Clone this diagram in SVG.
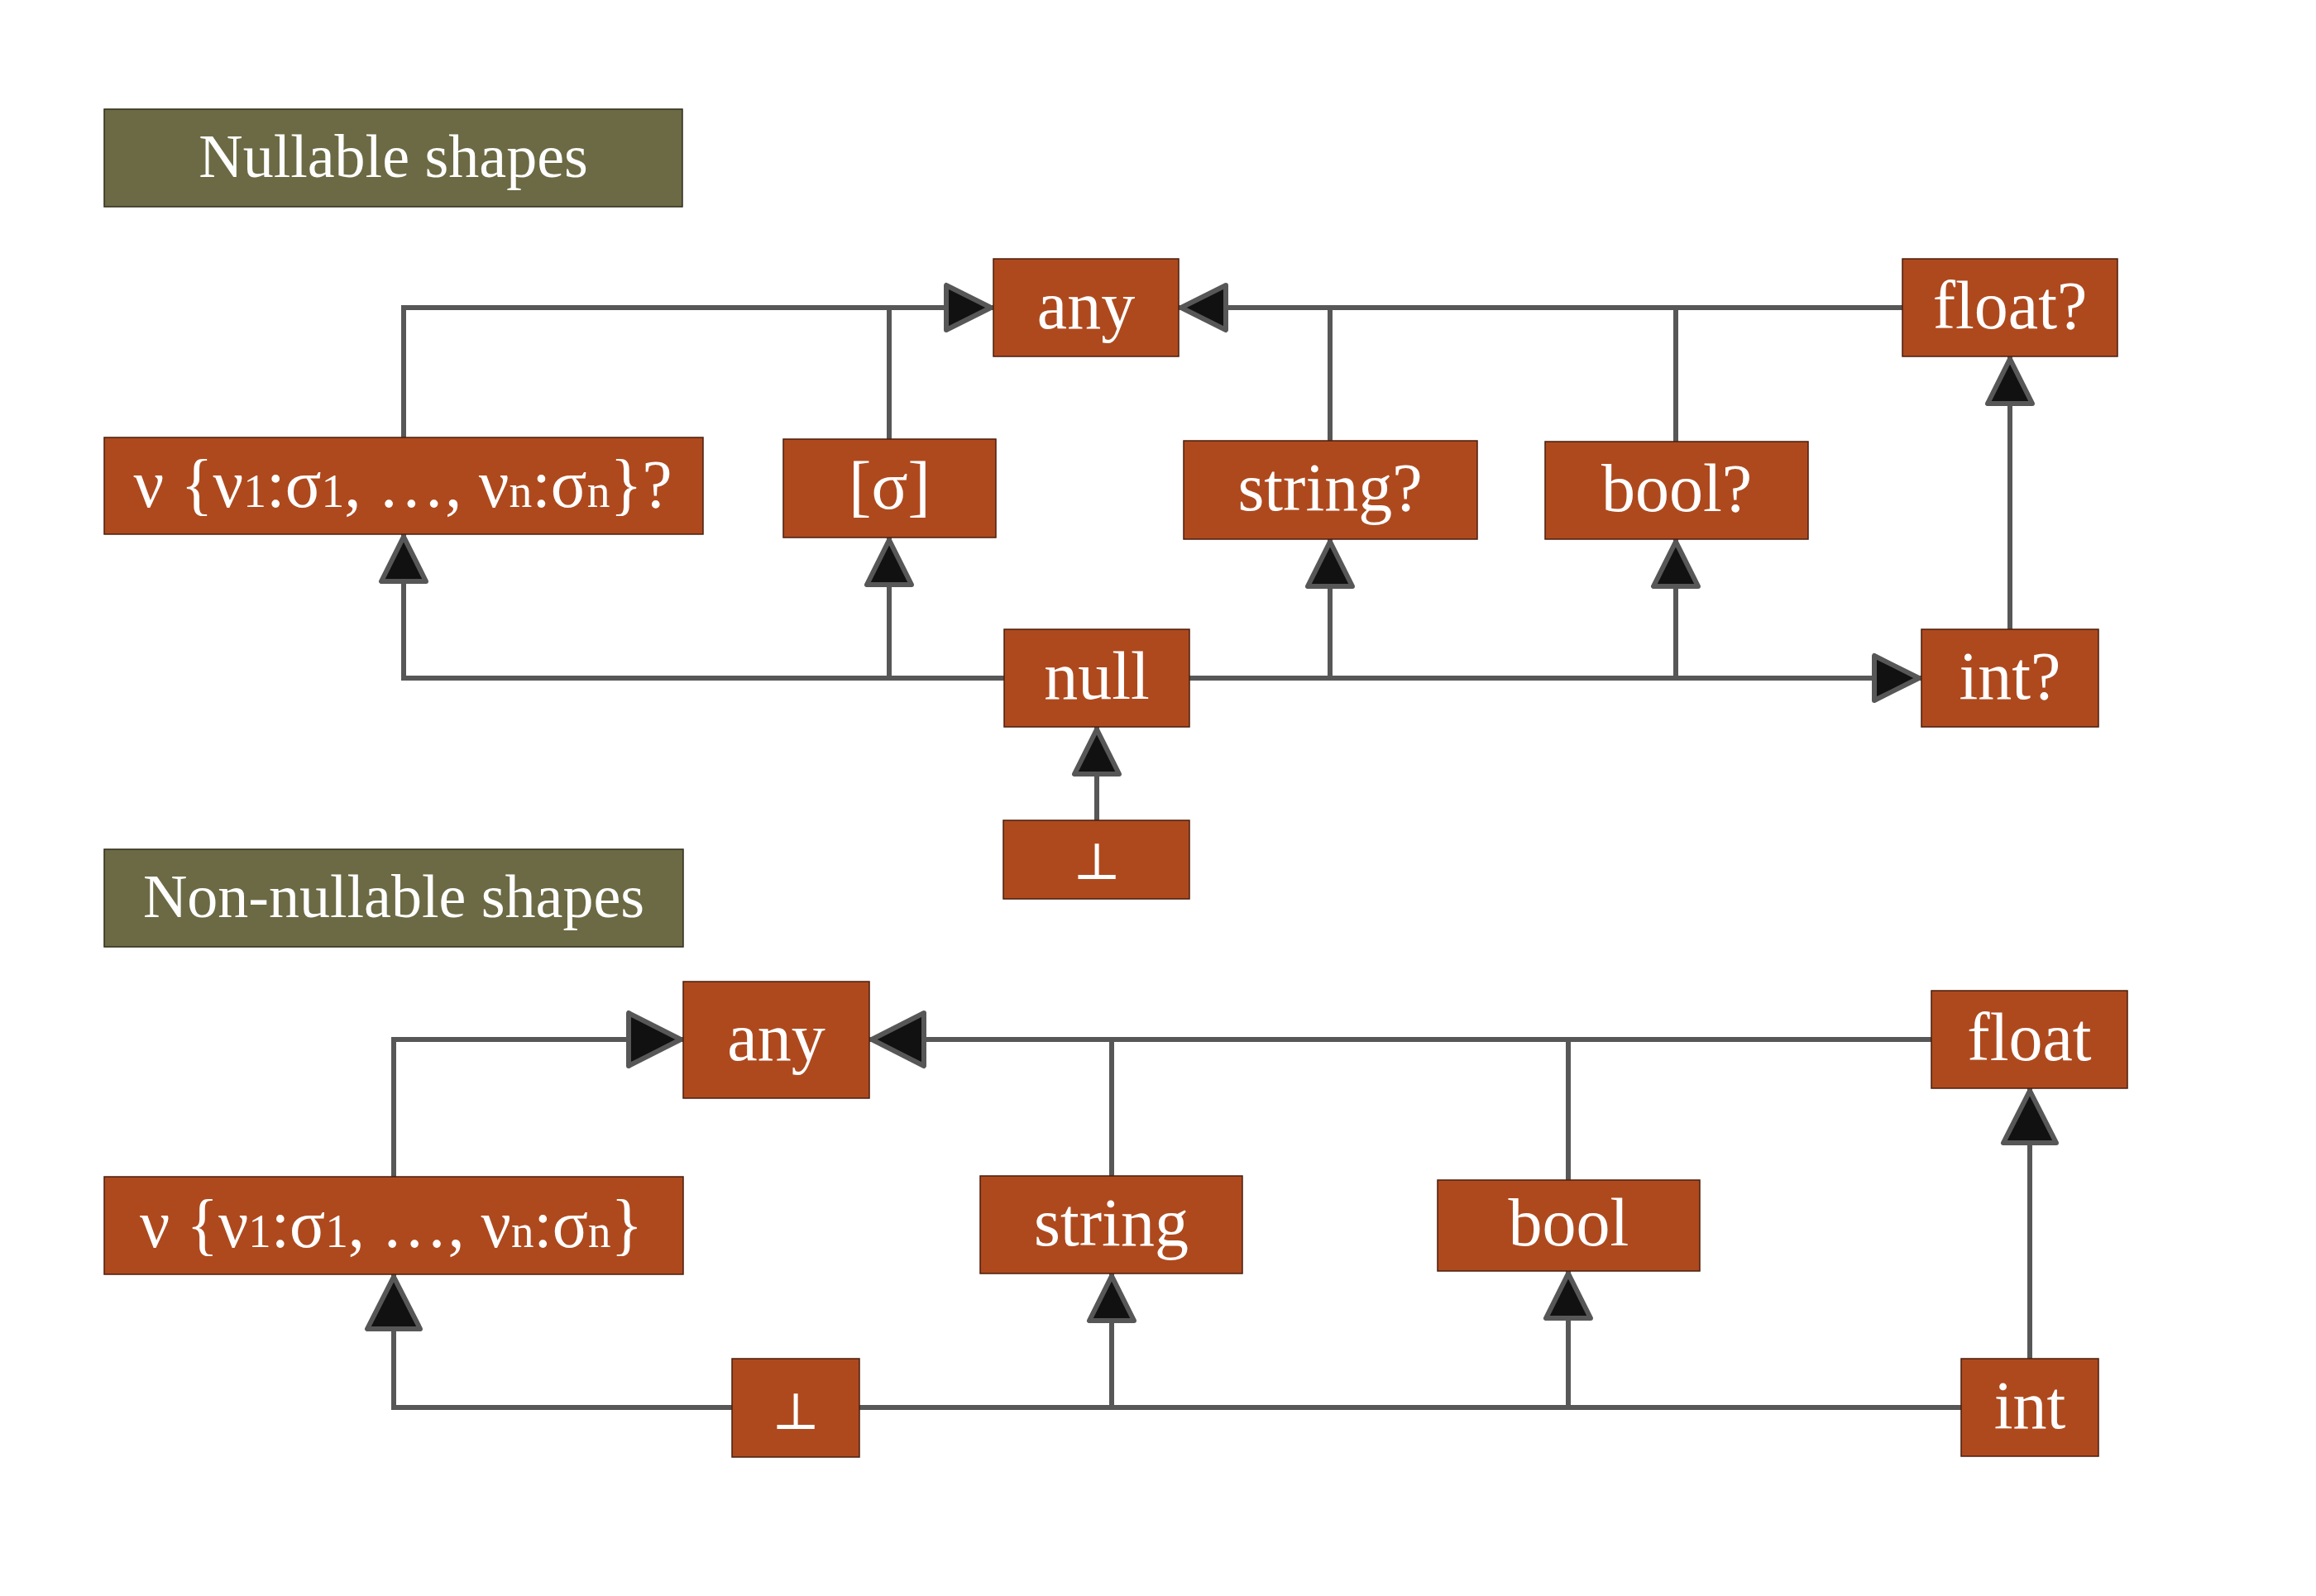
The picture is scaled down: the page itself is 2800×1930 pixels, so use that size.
<svg xmlns="http://www.w3.org/2000/svg" width="2800" height="1930" viewBox="0 0 2800 1930">
<defs>
<style>
.node{fill:#ae491e;stroke:#4a1e0c;stroke-width:1.5}
.title{fill:#6c6a44;stroke:#2e2d1c;stroke-width:1.5}
.lbl{fill:#ffffff;font-family:"Liberation Serif","DejaVu Serif",serif;font-size:82px;text-anchor:middle}
.tl{fill:#ffffff;font-family:"Liberation Serif","DejaVu Serif",serif;font-size:74px;text-anchor:middle}
.sub{font-size:56px}
.bot{font-family:"DejaVu Serif","Liberation Serif",serif;font-size:62px}
.ln{fill:none;stroke:#575757;stroke-width:6}
.as{marker-end:url(#arrS)}
.ab{marker-end:url(#arrB)}
</style>
<marker id="arrS" markerUnits="userSpaceOnUse" orient="auto" overflow="visible" refX="0" refY="0" markerWidth="1" markerHeight="1">
<path d="M-3,0 L-57,-27 L-57,27 Z" fill="#111111" stroke="#575757" stroke-width="6" stroke-linejoin="round"/>
</marker>
<marker id="arrB" markerUnits="userSpaceOnUse" orient="auto" overflow="visible" refX="0" refY="0" markerWidth="1" markerHeight="1">
<path d="M-3,0 L-66,-32 L-66,32 Z" fill="#111111" stroke="#575757" stroke-width="6" stroke-linejoin="round"/>
</marker>
</defs>
<rect width="2800" height="1930" fill="#ffffff"/>

<g id="connectors">
<path class="ln as" d="M488,529 V372 H1201"/>
<path class="ln" d="M1075,531 V372"/>
<path class="ln as" d="M2300,372 H1425"/>
<path class="ln" d="M1608,533 V372"/>
<path class="ln" d="M2026,534 V372"/>
<path class="ln as" d="M1214,820 H488 V646"/>
<path class="ln as" d="M1075,820 V650"/>
<path class="ln as" d="M1438,820 H2323"/>
<path class="ln as" d="M1608,820 V652"/>
<path class="ln as" d="M2026,820 V652"/>
<path class="ln as" d="M1326,992 V879"/>
<path class="ln as" d="M2430,761 V431"/>
<path class="ln ab" d="M476,1423 V1257 H826"/>
<path class="ln ab" d="M2335,1257 H1051"/>
<path class="ln" d="M1344,1422 V1257"/>
<path class="ln" d="M1896,1427 V1257"/>
<path class="ln ab" d="M885,1702 H476 V1541"/>
<path class="ln" d="M1039,1702 H2371"/>
<path class="ln as" d="M1344,1702 V1540"/>
<path class="ln as" d="M1896,1702 V1537"/>
<path class="ln ab" d="M2454,1643 V1316"/>
</g>

<g id="title-nullable">
<rect class="title" x="126" y="132" width="699" height="118"/>
<text class="tl" x="475.5" y="214">Nullable shapes</text>
</g>
<g id="n-any">
<rect class="node" x="1201" y="313" width="224" height="118"/>
<text class="lbl" x="1313" y="397">any</text>
</g>
<g id="n-floatq">
<rect class="node" x="2300" y="313" width="260" height="118"/>
<text class="lbl" x="2430" y="397">float?</text>
</g>
<g id="n-recordq">
<rect class="node" x="126" y="529" width="724" height="117"/>
<text class="lbl" x="487" y="613" textLength="651" lengthAdjust="spacingAndGlyphs">ν {ν<tspan class="sub">1</tspan>:σ<tspan class="sub">1</tspan>, …, ν<tspan class="sub">n</tspan>:σ<tspan class="sub">n</tspan>}?</text>
</g>
<g id="n-list">
<rect class="node" x="947" y="531" width="257" height="119"/>
<text class="lbl" x="1075.5" y="615">[σ]</text>
</g>
<g id="n-stringq">
<rect class="node" x="1431" y="533" width="355" height="119"/>
<text class="lbl" x="1608" y="617">string?</text>
</g>
<g id="n-boolq">
<rect class="node" x="1868" y="534" width="318" height="118"/>
<text class="lbl" x="2027" y="618">bool?</text>
</g>
<g id="n-null">
<rect class="node" x="1214" y="761" width="224" height="118"/>
<text class="lbl" x="1326" y="845">null</text>
</g>
<g id="n-intq">
<rect class="node" x="2323" y="761" width="214" height="118"/>
<text class="lbl" x="2430" y="845">int?</text>
</g>
<g id="n-bottom1">
<rect class="node" x="1213" y="992" width="225" height="95"/>
<text class="lbl bot" x="1326" y="1063">⊥</text>
</g>

<g id="title-nonnullable">
<rect class="title" x="126" y="1027" width="700" height="118"/>
<text class="tl" x="476" y="1109">Non-nullable shapes</text>
</g>
<g id="n-any2">
<rect class="node" x="826" y="1187" width="225" height="141"/>
<text class="lbl" x="938.5" y="1282">any</text>
</g>
<g id="n-float">
<rect class="node" x="2335" y="1198" width="237" height="118"/>
<text class="lbl" x="2453.5" y="1282">float</text>
</g>
<g id="n-record">
<rect class="node" x="126" y="1423" width="700" height="118"/>
<text class="lbl" x="473" y="1508" textLength="608" lengthAdjust="spacingAndGlyphs">ν {ν<tspan class="sub">1</tspan>:σ<tspan class="sub">1</tspan>, …, ν<tspan class="sub">n</tspan>:σ<tspan class="sub">n</tspan>}</text>
</g>
<g id="n-string">
<rect class="node" x="1185" y="1422" width="317" height="118"/>
<text class="lbl" x="1343.5" y="1506">string</text>
</g>
<g id="n-bool">
<rect class="node" x="1738" y="1427" width="317" height="110"/>
<text class="lbl" x="1896.5" y="1506">bool</text>
</g>
<g id="n-bottom2">
<rect class="node" x="885" y="1643" width="154" height="119"/>
<text class="lbl bot" x="962" y="1728">⊥</text>
</g>
<g id="n-int">
<rect class="node" x="2371" y="1643" width="166" height="118"/>
<text class="lbl" x="2454" y="1727">int</text>
</g>
</svg>
